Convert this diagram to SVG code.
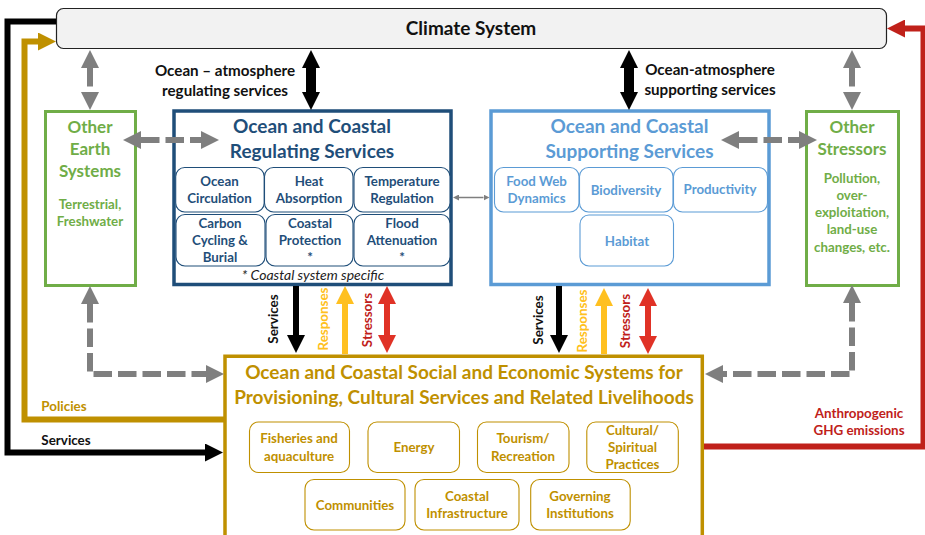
<svg xmlns="http://www.w3.org/2000/svg" width="925" height="535" viewBox="0 0 925 535">
<style>
text{font-family:"Lato","Carlito","Liberation Sans",sans-serif;font-weight:700;text-anchor:middle}
.box{fill:#fff}
.reg{fill:#1f4e79}.sup{fill:#5b9bd5}.grn{fill:#70ad47}.gld{fill:#bf9000}.blk{fill:#111}.red{fill:#c0211a}.yel{fill:#ffc020}
.t0{font-size:19px}.t1{font-size:17px}.t2{font-size:13.3px}.t3{font-size:13.4px}.t4{font-size:15.2px}
.ireg{fill:#fff;stroke:#1f4e79;stroke-width:1.1}
.isup{fill:#fff;stroke:#5b9bd5;stroke-width:1.1}
.igld{fill:#fff;stroke:#bf9000;stroke-width:1.1}
.gd{fill:none;stroke:#7f7f7f;stroke-width:6;stroke-dasharray:18.5 6}
.ln{fill:none;stroke-width:6}
</style>
<defs>
<marker id="hk" markerUnits="userSpaceOnUse" markerWidth="18" markerHeight="18" refX="0" refY="9" orient="auto-start-reverse" viewBox="0 0 18 18"><path d="M0 0L18 9L0 18Z" fill="#000"/></marker>
<marker id="hg" markerUnits="userSpaceOnUse" markerWidth="18" markerHeight="18" refX="0" refY="9" orient="auto-start-reverse" viewBox="0 0 18 18"><path d="M0 0L18 9L0 18Z" fill="#7f7f7f"/></marker>
<marker id="hy" markerUnits="userSpaceOnUse" markerWidth="18" markerHeight="18" refX="0" refY="9" orient="auto-start-reverse" viewBox="0 0 18 18"><path d="M0 0L18 9L0 18Z" fill="#ffc020"/></marker>
<marker id="hr" markerUnits="userSpaceOnUse" markerWidth="18" markerHeight="18" refX="0" refY="9" orient="auto-start-reverse" viewBox="0 0 18 18"><path d="M0 0L18 9L0 18Z" fill="#e03226"/></marker>
<marker id="hd" markerUnits="userSpaceOnUse" markerWidth="18" markerHeight="18" refX="0" refY="9" orient="auto-start-reverse" viewBox="0 0 18 18"><path d="M0 0L18 9L0 18Z" fill="#c0211a"/></marker>
<marker id="hb" markerUnits="userSpaceOnUse" markerWidth="18" markerHeight="18" refX="0" refY="9" orient="auto-start-reverse" viewBox="0 0 18 18"><path d="M0 0L18 9L0 18Z" fill="#bf9000"/></marker>
<marker id="hs" markerUnits="userSpaceOnUse" markerWidth="6" markerHeight="6" refX="0" refY="3" orient="auto-start-reverse" viewBox="0 0 6 6"><path d="M0 0L6 3L0 6Z" fill="#7f7f7f"/></marker>
</defs>

<g id="climate-system">
<rect x="56.5" y="8.5" width="830" height="40" rx="7" fill="#f2f2f2" stroke="#222" stroke-width="1.2"/>
<text class="blk t0" x="471" y="35">Climate System</text>
</g>

<g id="other-earth-systems">
<rect class="box" x="45.5" y="111.5" width="90" height="174" stroke="#70ad47" stroke-width="3"/>
<text class="grn t1" x="90" y="133">Other</text>
<text class="grn t1" x="90" y="155">Earth</text>
<text class="grn t1" x="90" y="177">Systems</text>
<text class="grn t2" x="90" y="209">Terrestrial,</text>
<text class="grn t2" x="90" y="226">Freshwater</text>
</g>

<g id="other-stressors">
<rect class="box" x="806.5" y="111.5" width="92" height="174" stroke="#70ad47" stroke-width="3"/>
<text class="grn t1" x="852" y="133">Other</text>
<text class="grn t1" x="852" y="155">Stressors</text>
<text class="grn t2" x="852" y="183">Pollution,</text>
<text class="grn t2" x="852" y="200">over-</text>
<text class="grn t2" x="852" y="217">exploitation,</text>
<text class="grn t2" x="852" y="234">land-use</text>
<text class="grn t2" x="852" y="252">changes, etc.</text>
</g>

<g id="regulating-services">
<rect class="box" x="174" y="111" width="277" height="173.5" stroke="#1f4e79" stroke-width="3.5"/>
<text class="reg t0" x="312" y="133">Ocean and Coastal</text>
<text class="reg t0" x="312" y="158">Regulating Services</text>
<rect class="ireg" x="175.7" y="167.5" width="88.5" height="44.5" rx="9"/>
<rect class="ireg" x="264.5" y="167.5" width="88.5" height="44.5" rx="9"/>
<rect class="ireg" x="354" y="167.5" width="96" height="44.5" rx="9"/>
<rect class="ireg" x="176" y="214.5" width="89" height="51.5" rx="9"/>
<rect class="ireg" x="266" y="214.5" width="87" height="51.5" rx="9"/>
<rect class="ireg" x="354" y="214.5" width="96" height="51.5" rx="9"/>
<text class="reg t2" x="219.5" y="186">Ocean</text><text class="reg t2" x="219.5" y="203">Circulation</text>
<text class="reg t2" x="309" y="186">Heat</text><text class="reg t2" x="309" y="203">Absorption</text>
<text class="reg t2" x="402" y="186">Temperature</text><text class="reg t2" x="402" y="203">Regulation</text>
<text class="reg t2" x="220" y="228">Carbon</text><text class="reg t2" x="220" y="245">Cycling &amp;</text><text class="reg t2" x="220" y="262">Burial</text>
<text class="reg t2" x="310" y="228">Coastal</text><text class="reg t2" x="310" y="245">Protection</text><text class="reg t2" x="310" y="262">*</text>
<text class="reg t2" x="402" y="228">Flood</text><text class="reg t2" x="402" y="245">Attenuation</text><text class="reg t2" x="402" y="262">*</text>
<text x="313" y="280" fill="#222" style="font-size:14px;font-style:italic;font-weight:400">* Coastal system specific</text>
</g>

<g id="supporting-services">
<rect class="box" x="491" y="111" width="278" height="173.5" stroke="#5b9bd5" stroke-width="3.5"/>
<text class="sup t0" x="629.5" y="133">Ocean and Coastal</text>
<text class="sup t0" x="629.5" y="158">Supporting Services</text>
<rect class="isup" x="494.5" y="167.5" width="84.5" height="44.5" rx="9"/>
<rect class="isup" x="579.5" y="167.5" width="93.5" height="44.5" rx="9"/>
<rect class="isup" x="673.5" y="167.5" width="94" height="44.5" rx="9"/>
<rect class="isup" x="580" y="215" width="93.5" height="51" rx="9"/>
<text class="sup t2" x="536.5" y="186">Food Web</text><text class="sup t2" x="536.5" y="203">Dynamics</text>
<text class="sup t2" x="626" y="195">Biodiversity</text>
<text class="sup t2" x="720" y="194">Productivity</text>
<text class="sup t2" x="627" y="246">Habitat</text>
</g>

<g id="social-economic-systems">
<path class="box" d="M225 537V356.3H702.3V537" stroke="#bf9000" stroke-width="3.5"/>
<text class="gld t0" x="464" y="378.5">Ocean and Coastal Social and Economic Systems for</text>
<text class="gld t0" x="464" y="403.5">Provisioning, Cultural Services and Related Livelihoods</text>
<rect class="igld" x="249.5" y="422" width="100" height="50.5" rx="9"/>
<rect class="igld" x="368" y="422" width="91.5" height="50.5" rx="9"/>
<rect class="igld" x="477.5" y="422" width="91.5" height="50.5" rx="9"/>
<rect class="igld" x="586.8" y="422" width="91.5" height="50.5" rx="9"/>
<rect class="igld" x="305" y="479.5" width="100" height="50.5" rx="9"/>
<rect class="igld" x="415" y="479.5" width="104" height="50.5" rx="9"/>
<rect class="igld" x="530.7" y="479.5" width="99.5" height="50.5" rx="9"/>
<text class="gld t2" x="299" y="443">Fisheries and</text><text class="gld t2" x="299" y="461">aquaculture</text>
<text class="gld t2" x="414" y="452">Energy</text>
<text class="gld t2" x="523" y="443">Tourism/</text><text class="gld t2" x="523" y="461">Recreation</text>
<text class="gld t2" x="632.5" y="435">Cultural/</text><text class="gld t2" x="632.5" y="452">Spiritual</text><text class="gld t2" x="632.5" y="469">Practices</text>
<text class="gld t2" x="355" y="510">Communities</text>
<text class="gld t2" x="467" y="501">Coastal</text><text class="gld t2" x="467" y="518">Infrastructure</text>
<text class="gld t2" x="580" y="501">Governing</text><text class="gld t2" x="580" y="518">Institutions</text>
</g>

<g id="connectors">
<path class="ln" stroke="#000" d="M56 21.5H7.5V452.5H205" marker-end="url(#hk)"/>
<path class="ln" stroke="#bf9000" d="M225 419.5H24.5V41.5H38" marker-end="url(#hb)"/>
<path class="ln" stroke="#c0211a" d="M704 446.5H923.5V28.5H905" marker-end="url(#hd)"/>
<path class="gd" d="M90 68V92" stroke-dasharray="15 6" marker-start="url(#hg)" marker-end="url(#hg)"/>
<path class="gd" d="M852 68V92" stroke-dasharray="15 6" marker-start="url(#hg)" marker-end="url(#hg)"/>
<path class="gd" d="M141 140H201" stroke-dasharray="14 6 19 6 15" marker-start="url(#hg)" marker-end="url(#hg)"/>
<path class="gd" d="M739 140H799" stroke-dasharray="14 6 19 6 15" marker-start="url(#hg)" marker-end="url(#hg)"/>
<path class="gd" d="M90 304V374H206" stroke-dasharray="15.5 6 18.5 6 18.5 6 18.5 6 18.5 6 18.5 6 18.5 6 17" marker-start="url(#hg)" marker-end="url(#hg)"/>
<path class="gd" d="M852 303V374H723" stroke-dasharray="17 6 18.5 6 18.5 6 18.5 6 18.5 6 18.5 6 18.5 6 14" marker-start="url(#hg)" marker-end="url(#hg)"/>
<path fill="none" stroke="#7f7f7f" stroke-width="1.5" d="M459 197.5H483.5" marker-start="url(#hs)" marker-end="url(#hs)"/>
<path fill="none" stroke="#000" stroke-width="10" d="M311 68V92" marker-start="url(#hk)" marker-end="url(#hk)"/>
<path fill="none" stroke="#000" stroke-width="10" d="M629 68V92" marker-start="url(#hk)" marker-end="url(#hk)"/>
<path fill="none" stroke="#000" stroke-width="6" d="M296 286V335" marker-end="url(#hk)"/>
<path fill="none" stroke="#000" stroke-width="6" d="M559 286V335" marker-end="url(#hk)"/>
<path fill="none" stroke="#ffc020" stroke-width="6" d="M345 354V304" marker-end="url(#hy)"/>
<path fill="none" stroke="#ffc020" stroke-width="6" d="M604 354V306" marker-end="url(#hy)"/>
<path fill="none" stroke="#e03226" stroke-width="6" d="M387 304V335" marker-start="url(#hr)" marker-end="url(#hr)"/>
<path fill="none" stroke="#e03226" stroke-width="6" d="M648 306V336" marker-start="url(#hr)" marker-end="url(#hr)"/>
</g>

<g id="labels">
<text class="blk t4" x="225" y="76">Ocean – atmosphere</text>
<text class="blk t4" x="225" y="96">regulating services</text>
<text class="blk t4" x="710" y="75">Ocean-atmosphere</text>
<text class="blk t4" x="710" y="95">supporting services</text>
<text class="gld t3" x="64" y="411">Policies</text>
<text class="blk t3" x="66" y="445">Services</text>
<text class="red t3" x="859" y="418">Anthropogenic</text>
<text class="red t3" x="859" y="435">GHG emissions</text>
<text class="blk t3" transform="translate(278 319) rotate(-90)">Services</text>
<text class="yel t3" transform="translate(327.5 319) rotate(-90)">Responses</text>
<text class="red t3" transform="translate(371.5 320) rotate(-90)">Stressors</text>
<text class="blk t3" transform="translate(543 320) rotate(-90)">Services</text>
<text class="yel t3" transform="translate(586.5 321) rotate(-90)">Responses</text>
<text class="red t3" transform="translate(630 321) rotate(-90)">Stressors</text>
</g>
</svg>
